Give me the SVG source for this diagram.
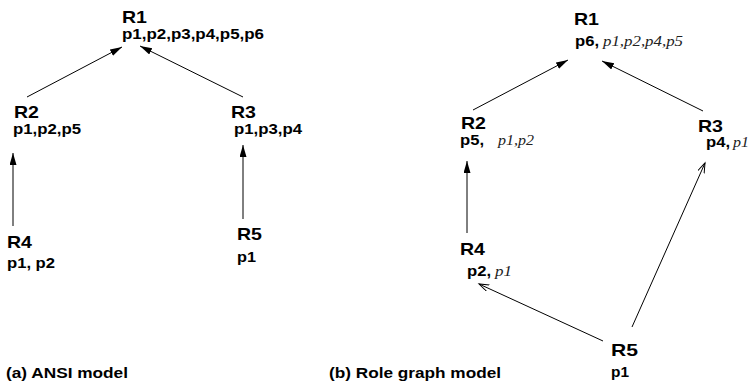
<svg xmlns="http://www.w3.org/2000/svg" width="749" height="383" viewBox="0 0 749 383">
<style>
.r{font-family:"Liberation Sans",Arial,sans-serif;font-weight:bold;font-size:17px;fill:#000}
.p{font-family:"Liberation Sans",Arial,sans-serif;font-weight:bold;font-size:14px;fill:#000}
.i{font-family:"Liberation Serif","Times New Roman",serif;font-style:italic;font-size:14px;fill:#222}
.cap{font-family:"Liberation Sans",Arial,sans-serif;font-weight:bold;font-size:14.5px;fill:#000}
.e{stroke:#000;stroke-width:1;fill:none}
</style>
<defs>
<marker id="fa" markerUnits="userSpaceOnUse" markerWidth="13" markerHeight="8" refX="12" refY="3.5" orient="auto">
<path d="M0,0 L12,3.5 L0,7 z" fill="#000"/>
</marker>
<marker id="oa" markerUnits="userSpaceOnUse" markerWidth="12" markerHeight="9" refX="10" refY="3.5" orient="auto">
<path d="M0,0 L10,3.5 L0,7" fill="none" stroke="#000" stroke-width="1"/>
</marker>
</defs>
<rect width="749" height="383" fill="#fff"/>
<g id="connectors">
<line class="e" x1="27" y1="97" x2="122" y2="47" marker-end="url(#fa)"/>
<line class="e" x1="243" y1="97" x2="140" y2="46" marker-end="url(#fa)"/>
<line class="e" x1="13" y1="226" x2="13" y2="153" marker-end="url(#fa)"/>
<line class="e" x1="243" y1="219" x2="243" y2="145" marker-end="url(#fa)"/>
<line class="e" x1="473" y1="110" x2="568" y2="60" marker-end="url(#fa)"/>
<line class="e" x1="703" y1="111" x2="602" y2="61" marker-end="url(#fa)"/>
<line class="e" x1="467" y1="233" x2="467" y2="161" marker-end="url(#fa)"/>
<line class="e" x1="632" y1="327" x2="705" y2="163" marker-end="url(#oa)"/>
<line class="e" x1="603" y1="341" x2="479" y2="284" marker-end="url(#oa)"/>
</g>
<g id="a-R1"><text class="r" x="122" y="22.5" textLength="25" lengthAdjust="spacingAndGlyphs">R1</text><text class="p" x="122" y="38.5" textLength="142" lengthAdjust="spacingAndGlyphs">p1,p2,p3,p4,p5,p6</text></g>
<g id="a-R2"><text class="r" x="14" y="118" textLength="25" lengthAdjust="spacingAndGlyphs">R2</text><text class="p" x="13" y="134" textLength="68" lengthAdjust="spacingAndGlyphs">p1,p2,p5</text></g>
<g id="a-R3"><text class="r" x="231" y="118" textLength="25" lengthAdjust="spacingAndGlyphs">R3</text><text class="p" x="234" y="134" textLength="68" lengthAdjust="spacingAndGlyphs">p1,p3,p4</text></g>
<g id="a-R4"><text class="r" x="7" y="248" textLength="25" lengthAdjust="spacingAndGlyphs">R4</text><text class="p" x="7" y="268" textLength="48" lengthAdjust="spacingAndGlyphs">p1, p2</text></g>
<g id="a-R5"><text class="r" x="237" y="240" textLength="25" lengthAdjust="spacingAndGlyphs">R5</text><text class="p" x="237" y="262" textLength="19" lengthAdjust="spacingAndGlyphs">p1</text></g>
<text class="cap" x="6" y="378" textLength="122" lengthAdjust="spacingAndGlyphs">(a) ANSI model</text>
<g id="b-R1"><text class="r" x="574" y="25" textLength="25" lengthAdjust="spacingAndGlyphs">R1</text><text class="p" x="575" y="46" textLength="24" lengthAdjust="spacingAndGlyphs">p6,</text><text class="i" x="603" y="46" textLength="80" lengthAdjust="spacingAndGlyphs">p1,p2,p4,p5</text></g>
<g id="b-R2"><text class="r" x="461" y="129" textLength="25" lengthAdjust="spacingAndGlyphs">R2</text><text class="p" x="460" y="145" textLength="24" lengthAdjust="spacingAndGlyphs">p5,</text><text class="i" x="498" y="145" textLength="36" lengthAdjust="spacingAndGlyphs">p1,p2</text></g>
<g id="b-R3"><text class="r" x="698" y="132" textLength="25" lengthAdjust="spacingAndGlyphs">R3</text><text class="p" x="706" y="147" textLength="24" lengthAdjust="spacingAndGlyphs">p4,</text><text class="i" x="733" y="147" textLength="16" lengthAdjust="spacingAndGlyphs">p1</text></g>
<g id="b-R4"><text class="r" x="460" y="255" textLength="25" lengthAdjust="spacingAndGlyphs">R4</text><text class="p" x="467" y="276" textLength="24" lengthAdjust="spacingAndGlyphs">p2,</text><text class="i" x="495" y="276" textLength="17" lengthAdjust="spacingAndGlyphs">p1</text></g>
<g id="b-R5"><text class="r" x="611" y="356" textLength="27" lengthAdjust="spacingAndGlyphs">R5</text><text class="p" x="611" y="377" textLength="18" lengthAdjust="spacingAndGlyphs">p1</text></g>
<text class="cap" x="329" y="378" textLength="172" lengthAdjust="spacingAndGlyphs">(b) Role graph model</text>
</svg>
